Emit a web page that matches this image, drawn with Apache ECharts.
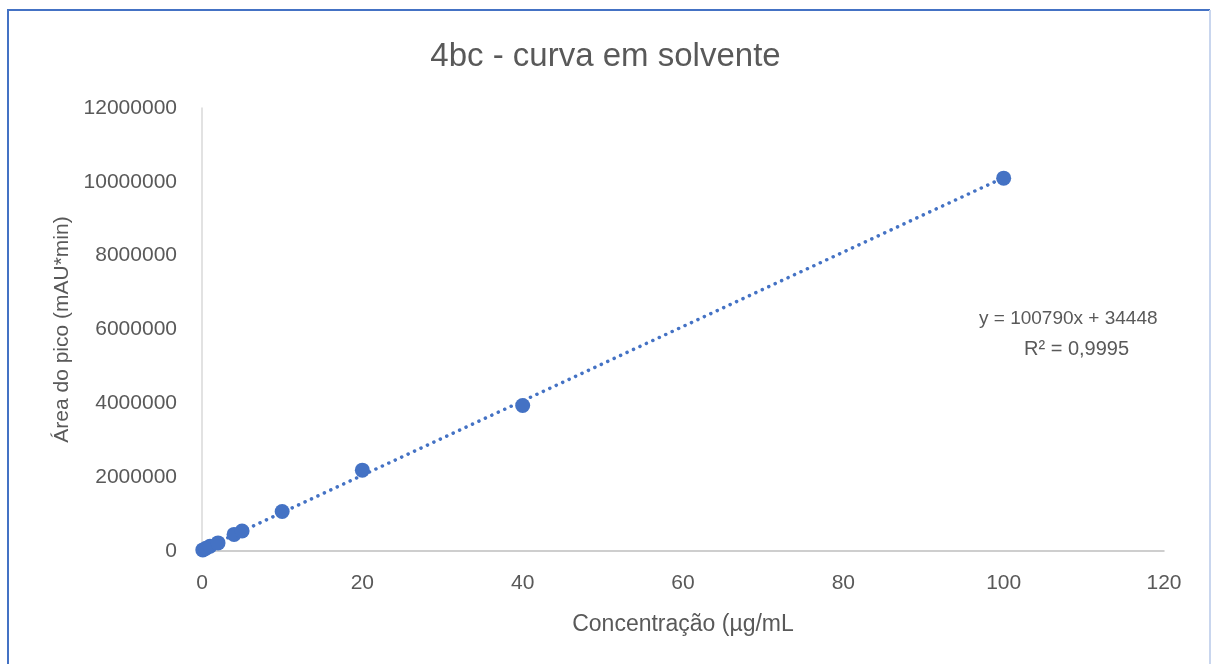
<!DOCTYPE html>
<html>
<head>
<meta charset="utf-8">
<script src="https://cdn.jsdelivr.net/npm/echarts@6/dist/echarts.min.js"></script>
<style>
  html, body { margin: 0; padding: 0; background: #fff; }
  #chart { width: 1211px; height: 664px; }
</style>
</head>
<body>
<div id="chart"></div>
<script>
// Concentration levels (µg/mL) and measured peak areas (mAU*min)
const concentrations = [0.1, 0.5, 1, 2, 4, 5, 10, 20, 40, 100];
const peakAreas = [30000, 75000, 130000, 220000, 450000, 540000, 1070000, 2190000, 3940000, 10100000];

// Linear fit reported on the chart
const slope = 100790;
const intercept = 34448;
const rSquared = '0,9995';
const fitRange = [0, 100];

const titleText = '4bc - curva em solvente';
const xName = 'Concentração (µg/mL';
const yName = 'Área do pico (mAU*min)';

const font = 'Liberation Sans';
const textColor = '#595959';
const markColor = '#4472C4';

const points = concentrations.map((c, i) => [c, peakAreas[i]]);
const fitLine = fitRange.map(x => [x, slope * x + intercept]);

const chart = echarts.init(document.getElementById('chart'));
chart.setOption({
  backgroundColor: '#ffffff',
  animation: false,
  title: {
    text: titleText,
    left: 'center',
    top: 35,
    textStyle: { fontFamily: font, fontSize: 33, fontWeight: 'normal', color: textColor }
  },
  grid: { left: 202, right: 47, top: 108, bottom: 113 },
  xAxis: {
    type: 'value',
    min: 0, max: 120, interval: 20,
    name: xName,
    nameLocation: 'middle',
    nameGap: 62,
    nameTextStyle: { fontFamily: font, fontSize: 23, color: textColor },
    axisLine: { onZero: false, lineStyle: { color: '#bfbfbf', width: 1.5 } },
    axisTick: { show: false },
    splitLine: { show: false },
    axisLabel: { fontFamily: font, fontSize: 21, color: textColor, margin: 22 }
  },
  yAxis: {
    type: 'value',
    min: 0, max: 12000000, interval: 2000000,
    name: yName,
    nameLocation: 'middle',
    nameGap: 128,
    nameTextStyle: { fontFamily: font, fontSize: 21, color: textColor },
    axisLine: { show: true, lineStyle: { color: '#d9d9d9', width: 1.5 } },
    axisTick: { show: false },
    splitLine: { show: false },
    axisLabel: {
      fontFamily: font, fontSize: 21, color: textColor, margin: 25,
      formatter: v => String(v)
    }
  },
  series: [
    {
      type: 'line',
      data: fitLine,
      symbol: 'none',
      silent: true,
      lineStyle: { color: markColor, width: 3.5, type: [0.1, 7], cap: 'round' },
      z: 1
    },
    {
      type: 'scatter',
      data: points,
      symbol: 'circle',
      symbolSize: 15,
      itemStyle: { color: markColor, opacity: 1 },
      z: 2
    }
  ],
  graphic: [
    // Frame: strong left and top edges, faint right edge
    {
      type: 'polyline',
      shape: { points: [[8, 680], [8, 10], [1210, 10]] },
      style: { stroke: '#4472C4', lineWidth: 2, fill: 'none' },
      silent: true
    },
    {
      type: 'line',
      shape: { x1: 1210, y1: 10, x2: 1210, y2: 680 },
      style: { stroke: '#c9d6ee', lineWidth: 2 },
      silent: true
    },
    {
      type: 'text',
      left: 979, top: 309,
      style: { text: 'y = 100790x + 34448', fontFamily: font, fontSize: 19, fill: textColor }
    },
    {
      type: 'text',
      left: 1024, top: 339,
      style: { text: 'R² = ' + rSquared, fontFamily: font, fontSize: 20, fill: textColor }
    }
  ]
});
</script>
</body>
</html>
